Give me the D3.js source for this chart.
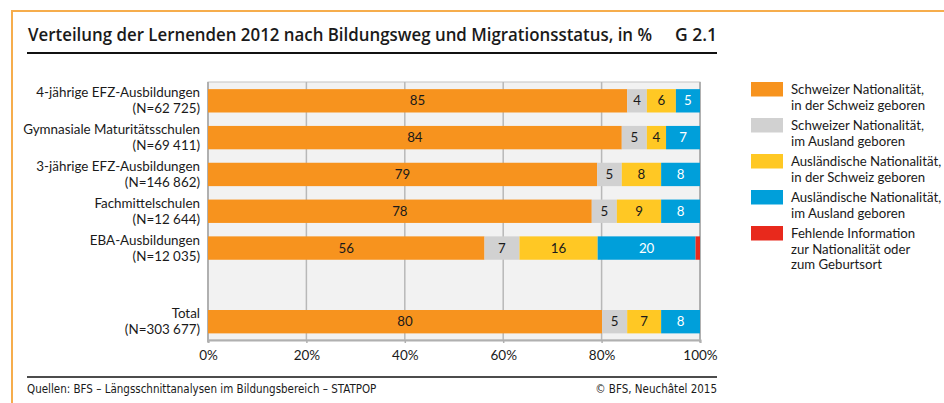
<!DOCTYPE html>
<html>
<head>
<meta charset="utf-8">
<script src="https://cdn.jsdelivr.net/npm/d3@7"></script>
<style>
  body { margin:0; background:#fff; }
  svg text { font-family: Lato, "Open Sans", sans-serif; fill:#1a1a1a; }
</style>
</head>
<body>
<svg id="chart" width="944" height="403"></svg>
<script>
// categories (label line 1, line 2); "" = empty spacer row
var categories = ["4-jährige EFZ-Ausbildungen","Gymnasiale Maturitätsschulen","3-jährige EFZ-Ausbildungen","Fachmittelschulen","EBA-Ausbildungen","","Total"];
var counts = ["(N=62 725)","(N=69 411)","(N=146 862)","(N=12 644)","(N=12 035)","","(N=303 677)"];

// series values in %
var chCh   = [85.2, 84.1, 79.1, 78.0, 56.2, 0, 80.1];
var chAus  = [4.0, 5.1, 5.0, 5.1, 7.1, 0, 5.1];
var ausCh  = [5.9, 3.9, 8.0, 9.0, 15.9, 0, 6.9];
var ausAus = [4.9, 6.9, 7.9, 7.9, 19.9, 0, 7.9];
var fehlt  = [0, 0, 0, 0, 0.9, 0, 0];

var seriesNames = [
  ["Schweizer Nationalität,","in der Schweiz geboren"],
  ["Schweizer Nationalität,","im Ausland geboren"],
  ["Ausländische Nationalität,","in der Schweiz geboren"],
  ["Ausländische Nationalität,","im Ausland geboren"],
  ["Fehlende Information","zur Nationalität oder","zum Geburtsort"]
];
var colors = ["#f7931e","#d1d1d1","#ffc824","#009fda","#e8291c"];
var textColors = ["#1a1a1a","#1a1a1a","#1a1a1a","#ffffff","#ffffff"];
var xTicks = [0,20,40,60,80,100];

var svg = d3.select("#chart");

// orange frame
svg.append("path").attr("d","M12,403 V11 H944").attr("fill","none")
  .attr("stroke","#f6ad4c").attr("stroke-width",2);

// title
svg.append("text").attr("x",28).attr("y",41).attr("font-size",17.5).attr("font-weight",600)
  .style("font-family","'Open Sans', sans-serif").attr("textLength",624).attr("lengthAdjust","spacingAndGlyphs")
  .text("Verteilung der Lernenden 2012 nach Bildungsweg und Migrationsstatus, in %");
svg.append("text").attr("x",717).attr("y",41).attr("font-size",17.5).attr("font-weight",600)
  .style("font-family","'Open Sans', sans-serif").attr("text-anchor","end").text("G 2.1");
svg.append("line").attr("x1",27).attr("x2",717).attr("y1",53).attr("y2",53)
  .attr("stroke","#111").attr("stroke-width",2);

// scales
var x = d3.scaleLinear().domain([0,100]).range([208,700]);
var y = d3.scaleBand().domain(d3.range(categories.length)).range([82.5,340])
  .paddingInner(0.365).paddingOuter(0.18);

// plot background + grid
svg.append("rect").attr("x",x(0)).attr("y",82).attr("width",x(100)-x(0)).attr("height",258)
  .attr("fill","#f2f2f2").attr("stroke","#c4c4c4").attr("stroke-width",1);
svg.selectAll(".grid").data(xTicks.slice(1,-1)).enter().append("line")
  .attr("x1",d=>x(d)).attr("x2",d=>x(d)).attr("y1",82).attr("y2",340)
  .attr("stroke","#b8b8b8").attr("stroke-width",1.5);
svg.append("line").attr("x1",x(0)).attr("x2",x(0)).attr("y1",82).attr("y2",342).attr("stroke","#b0b0b0").attr("stroke-width",2);
svg.append("line").attr("x1",x(100)).attr("x2",x(100)).attr("y1",82).attr("y2",342).attr("stroke","#b0b0b0").attr("stroke-width",2);

// stacked bars
var series = [chCh, chAus, ausCh, ausAus, fehlt];
var rows = d3.range(categories.length).filter(i => categories[i] !== "");
series.forEach(function(vals, s){
  var g = svg.append("g");
  rows.forEach(function(i){
    var start = d3.sum(series.slice(0,s), v => v[i]);
    var v = vals[i];
    if (v <= 0) return;
    g.append("rect").attr("x",x(start)).attr("y",y(i))
      .attr("width",x(start+v)-x(start)).attr("height",y.bandwidth()).attr("fill",colors[s]);
    if (v >= 2) {
      g.append("text").attr("x",(x(start)+x(start+v))/2).attr("y",y(i)+y.bandwidth()/2+4.5)
        .attr("text-anchor","middle").attr("font-size",13.3).style("fill",textColors[s])
        .text(Math.round(v));
    }
  });
});

// category labels
rows.forEach(function(i){
  var cy = y(i)+y.bandwidth()/2;
  svg.append("text").attr("x",200).attr("y",cy-3.5).attr("text-anchor","end").attr("font-size",13.4).text(categories[i]);
  svg.append("text").attr("x",200).attr("y",cy+12.5).attr("text-anchor","end").attr("font-size",13.4).text(counts[i]);
});

// x axis
var xAxis = svg.append("g").attr("transform","translate(0,340)")
  .call(d3.axisBottom(x).tickValues(xTicks).tickSize(3).tickFormat(d => d+"%"));
xAxis.select(".domain").attr("stroke","#b0b0b0").attr("stroke-width",2);
xAxis.selectAll(".tick line").attr("stroke","#b0b0b0").attr("stroke-width",1.5);
xAxis.selectAll(".tick text").attr("font-size",13.5).attr("dy",0).attr("y",20)
  .style("font-family","Lato, sans-serif").style("fill","#1a1a1a");

// legend
seriesNames.forEach(function(lines, s){
  var ly = 82 + s*36;
  svg.append("rect").attr("x",751).attr("y",ly).attr("width",32).attr("height",14.5).attr("fill",colors[s]);
  lines.forEach(function(t, k){
    svg.append("text").attr("x",791).attr("y",ly+12+k*15.5).attr("font-size",13.2).text(t);
  });
});

// footer
svg.append("line").attr("x1",27).attr("x2",717).attr("y1",377).attr("y2",377).attr("stroke","#111").attr("stroke-width",1.5);
svg.append("text").attr("x",27).attr("y",393).attr("font-size",11.5).style("font-family","'Liberation Sans Narrow', 'DejaVu Sans Condensed', sans-serif")
  .text("Quellen: BFS – Längsschnittanalysen im Bildungsbereich – STATPOP");
svg.append("text").attr("x",717).attr("y",393).attr("font-size",11.5).attr("text-anchor","end")
  .style("font-family","'Liberation Sans Narrow', 'DejaVu Sans Condensed', sans-serif")
  .text("© BFS, Neuchâtel 2015");
</script>
</body>
</html>
